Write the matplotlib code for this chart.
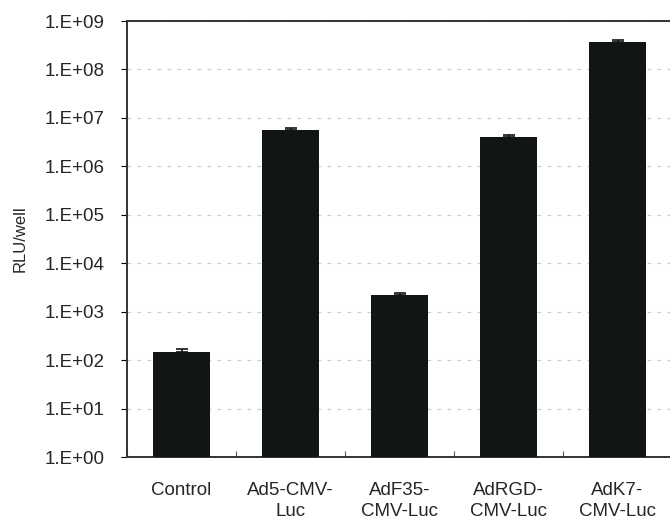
import numpy as np
import matplotlib
matplotlib.use("Agg")
import matplotlib.pyplot as plt
from matplotlib.ticker import FixedLocator, NullFormatter

plt.rcParams["font.family"] = ["Liberation Sans", "DejaVu Sans"]

# Luciferase activity per vector
vectors = ["Control", "Ad5-CMV-\nLuc", "AdF35-\nCMV-Luc", "AdRGD-\nCMV-Luc", "AdK7-\nCMV-Luc"]
rlu = [150, 5.7e6, 2.2e3, 4.1e6, 3.7e8]
rlu_err = [20, 0.4e6, 0.2e3, 0.3e6, 0.3e8]
decades = list(range(0, 10))
decade_labels = ["1.E+%02d" % d for d in decades]

fig = plt.figure(figsize=(6.7, 5.21), dpi=100)
ax = fig.add_axes([127 / 670, 1 - 457 / 521, 545 / 670, 436 / 521])

x = np.arange(len(vectors))
ax.bar(x, rlu, width=0.53, color="#111614", zorder=3)
ax.errorbar(x, rlu, yerr=[np.zeros(len(rlu)), rlu_err], fmt="none",
            ecolor="#111614", elinewidth=1.2, capsize=4, capthick=1.2, zorder=4)

ax.set_yscale("log")
ax.set_ylim(1, 1e9)
ax.set_xlim(-0.5, len(vectors) - 0.5)
ax.yaxis.set_major_locator(FixedLocator([10.0 ** d for d in decades]))
ax.yaxis.set_minor_locator(FixedLocator([]))
ax.set_yticklabels(decade_labels)
ax.tick_params(axis="y", which="major", direction="out", length=4, width=0.8,
               labelsize=13.5, labelcolor="#262626", pad=12)

ax.set_xticks(x)
ax.set_xticklabels(vectors, fontsize=13.5, color="#262626", linespacing=1.3)
ax.tick_params(axis="x", which="major", length=0, pad=18)
ax.set_xticks(np.arange(-0.5, len(vectors), 1.0), minor=True)
ax.xaxis.set_minor_formatter(NullFormatter())
ax.tick_params(axis="x", which="minor", direction="in", length=4, width=0.8,
               color="#555555")

ax.grid(axis="y", which="major", color="#cccccc", linestyle=(0, (3, 5)),
        linewidth=0.9, zorder=0)

for side in ["left", "bottom", "top", "right"]:
    ax.spines[side].set_linewidth(1.4)
    ax.spines[side].set_color("#333333")

ax.set_ylabel("RLU/well", fontsize=12, color="#262626", labelpad=12)

fig.savefig("out.png", dpi=100, facecolor="white")
